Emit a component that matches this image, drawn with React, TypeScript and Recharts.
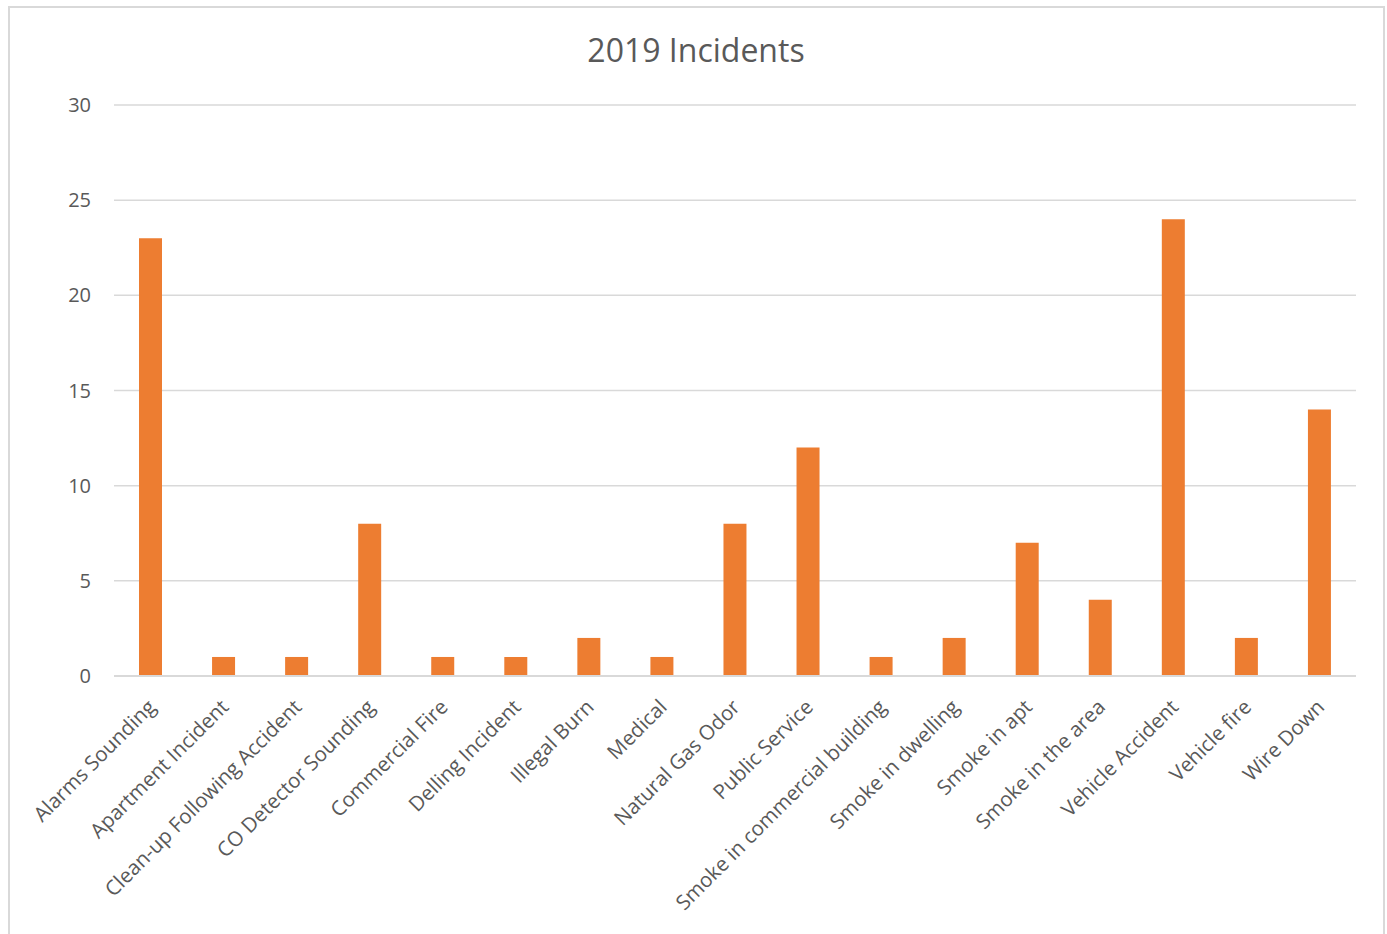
import React from "react";
import { BarChart, Bar, XAxis, YAxis, CartesianGrid } from "recharts";

const categories = [
  "Alarms Sounding",
  "Apartment Incident",
  "Clean-up Following Accident",
  "CO Detector Sounding",
  "Commercial Fire",
  "Delling Incident",
  "Illegal Burn",
  "Medical",
  "Natural Gas Odor",
  "Public Service",
  "Smoke in commercial building",
  "Smoke in dwelling",
  "Smoke in apt",
  "Smoke in the area",
  "Vehicle Accident",
  "Vehicle fire",
  "Wire Down",
];

const incidents = [23, 1, 1, 8, 1, 1, 2, 1, 8, 12, 1, 2, 7, 4, 24, 2, 14];

const yTicks = [0, 5, 10, 15, 20, 25, 30];

const data = categories.map((name, i) => ({ name, value: incidents[i] }));

const FONT = "'Open Sans', sans-serif";
const TEXT = "#595959";

const App = () => {
  return (
    <div style={{ position: "absolute", left: 0, top: 0, width: 1387, height: 934, overflow: "hidden", background: "#fff", fontFamily: FONT }}>
      {/* chart frame, bottom edge falls outside the picture */}
      <div style={{ position: "absolute", left: 8, top: 6, width: 1377, height: 960, border: "2px solid #d9d9d9", boxSizing: "border-box" }} />
      <div style={{ position: "absolute", left: 8, top: 28, width: 1376, textAlign: "center", fontSize: 32, lineHeight: "44px", color: TEXT }}>
        2019 Incidents
      </div>
      <div style={{ position: "absolute", left: 0, top: 0 }}>
        <BarChart width={1387} height={934} data={data} margin={{ top: 105, right: 31, bottom: 8, left: 54 }}>
          <CartesianGrid vertical={false} stroke="#d9d9d9" strokeWidth={1.5} />
          <XAxis
            dataKey="name"
            interval={0}
            height={250}
            axisLine={{ stroke: "#d9d9d9", strokeWidth: 2 }}
            tickLine={false}
            angle={-45}
            textAnchor="end"
            tickMargin={16}
            tick={{ fill: TEXT, fontSize: 20.5, fontFamily: FONT, dx: -4 }}
          />
          <YAxis
            width={60}
            domain={[0, 30]}
            ticks={yTicks}
            axisLine={false}
            tickLine={false}
            tickSize={0}
            tickMargin={23}
            tick={{ fill: TEXT, fontSize: 20, fontFamily: FONT }}
          />
          <Bar dataKey="value" fill="#ED7D31" barSize={23} isAnimationActive={false} />
        </BarChart>
      </div>
    </div>
  );
};

export default App;
